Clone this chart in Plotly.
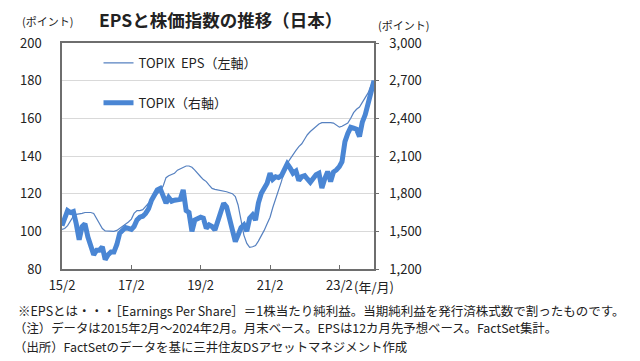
import pandas as pd
import plotly.graph_objects as go

# Monthly, 2015-02 .. 2024-02 (109 months)
months = pd.date_range("2015-02-01", periods=109, freq="MS")

eps = [101, 101.5, 103, 105.5, 108, 109, 109.2, 109.5, 110, 110,
       110, 109.5, 107, 104.3, 101.5, 100.2, 100, 100, 100, 100.5,
       101.6, 102.5, 103.4, 105, 106.5, 109.5, 111, 111, 111.5, 113,
       115, 117, 118.5, 119.8, 121.5, 124, 128.5, 129.5, 130.2, 130.8,
       132.5, 133.3, 134.3, 134.7, 134.7, 134, 132.5, 131, 129, 127.5,
       126.4, 124.5, 122.8, 122.3, 122, 121.8, 121.5, 121, 120.5, 120,
       118.5, 114, 106, 98, 93.6, 91.5, 91.8, 92.5, 94.8, 97.5,
       100.5, 104, 107.5, 112.5, 117, 122, 126.5, 132, 136, 138.5,
       141, 143, 145, 146.5, 149, 151.3, 153, 154.5, 156, 157,
       157.7, 157.8, 157.8, 157.7, 157.5, 156.5, 155.3, 155.8, 156.5, 157.5,
       160, 163, 164.8, 166, 168.5, 171, 173.5, 177.5, 180]

topix = [1545, 1605, 1665, 1650, 1658, 1560, 1433, 1538, 1560, 1455,
         1380, 1313, 1350, 1350, 1377, 1275, 1313, 1335, 1335, 1395,
         1485, 1515, 1530, 1523, 1515, 1538, 1590, 1613, 1620, 1643,
         1680, 1748, 1800, 1830, 1842, 1778, 1725, 1770, 1740, 1748,
         1749, 1755, 1830, 1665, 1650, 1500, 1590, 1598, 1613, 1605,
         1524, 1551, 1538, 1511, 1583, 1665, 1724, 1695, 1590, 1484,
         1418, 1470, 1530, 1551, 1500, 1605, 1631, 1590, 1725, 1803,
         1838, 1883, 1962, 1914, 1935, 1928, 1943, 1980, 2037, 2003,
         1962, 1980, 1905, 1935, 1943, 1917, 1890, 1920, 1950, 1962,
         1845, 1920, 1976, 1896, 1973, 1989, 2015, 2055, 2214, 2280,
         2328, 2321, 2313, 2255, 2370, 2430, 2520, 2610, 2700]

x_tickvals = ["2015-02-01", "2017-02-01", "2019-02-01", "2021-02-01", "2023-02-01"]
x_ticktext = ["15/2", "17/2", "19/2", "21/2", "23/2"]

FONT = "Noto Sans CJK JP"
TXT = "#222222"
AX = "#6e6e6e"

fig = go.Figure()
fig.add_trace(go.Scatter(x=months, y=eps, name="TOPIX\u00a0\u00a0EPS（左軸）", mode="lines",
                         line=dict(color="#5681c0", width=1.2), legendgroup="a", yaxis="y"))
fig.add_trace(go.Scatter(x=months, y=topix, name="TOPIX（右軸）", mode="lines",
                         line=dict(color="#4a86d4", width=5), legendgroup="b", yaxis="y2"))

# page body has an 8px margin: plot area sits at page x 51-374, y 43-269
fig.update_layout(
    width=640, height=361,
    margin=dict(l=43, r=274, t=35, b=100),
    paper_bgcolor="white", plot_bgcolor="white",
    font=dict(family=FONT, size=13, color=TXT),
    showlegend=True,
    legend=dict(x=0.117, y=0.978, xanchor="left", yanchor="top",
                bgcolor="rgba(0,0,0,0)", borderwidth=0, tracegroupgap=20,
                font=dict(size=13, color=TXT)),
    xaxis=dict(type="date", range=["2015-02-01", "2024-02-01"],
               tickvals=x_tickvals, ticktext=x_ticktext,
               showgrid=False, showline=True, mirror=True, linecolor=AX, linewidth=1.5,
               ticks="inside", ticklen=4, tickcolor=AX, ticklabelstandoff=4,
               tickfont=dict(size=13, color=TXT)),
    yaxis=dict(range=[80, 200], dtick=20, showgrid=True, gridcolor="#d9d9d9", gridwidth=1,
               showline=True, linecolor=AX, linewidth=1.5, ticks="",
               zeroline=False, ticklabelstandoff=16, tickfont=dict(size=13, color=TXT)),
    yaxis2=dict(range=[1200, 3000], dtick=300, overlaying="y", side="right",
                showgrid=False, showline=True, linecolor=AX, linewidth=1.5,
                ticks="outside", ticklen=3, tickcolor=AX, tickformat=",d",
                zeroline=False, ticklabelstandoff=8, tickfont=dict(size=13, color=TXT)),
)

ann = [
    dict(text="<b>EPSと株価指数の推移（日本）</b>", x=88, y=20, size=17.5),
    dict(text="(ポイント)", x=9, y=21, size=11),
    dict(text="(ポイント)", x=377, y=25, size=11),
    dict(text="(年/月)", x=352, y=286, size=13),
    dict(text="※EPSとは・・・［Earnings Per Share］＝1株当たり純利益。当期純利益を発行済株式数で割ったものです。", x=4, y=310, size=12.5),
    dict(text="（注）データは2015年2月～2024年2月。月末ベース。EPSは12カ月先予想ベース。FactSet集計。", x=0, y=328.3, size=12.4),
    dict(text="（出所）FactSetのデータを基に三井住友DSアセットマネジメント作成", x=0, y=346.6, size=12.4),
]
for a in ann:
    fig.add_annotation(text=a["text"], xref="paper", yref="paper",
                       x=(a["x"] - 51) / 323, y=(269 - a["y"]) / 226,
                       xanchor="left", yanchor="middle", showarrow=False, borderpad=0,
                       font=dict(family=FONT, size=a["size"], color=TXT))

fig.write_html("out.html")
